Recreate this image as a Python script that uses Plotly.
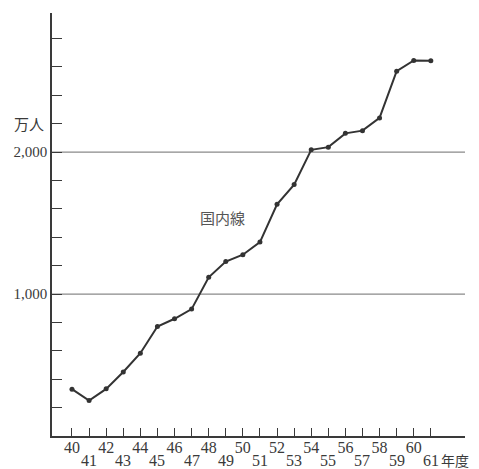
import plotly.graph_objects as go

years = list(range(40, 62))
passengers = [330, 250, 332, 451, 583, 771, 826, 894, 1118, 1229, 1277, 1366,
              1632, 1771, 2016, 2035, 2132, 2151, 2241, 2570, 2646, 2644]
grid_values = [1000, 2000]
y_tick_values = [200, 400, 600, 800, 1000, 1200, 1400, 1600, 1800, 2000,
                 2200, 2400, 2600, 2800]
y_tick_text = ["", "", "", "", "1,000", "", "", "", "", "2,000",
               "", "", "", ""]
unit_label = "万人"
x_unit_label = "年度"
series_label = "国内線"

even_years = [y for y in years if y % 2 == 0]
odd_years = [y for y in years if y % 2 == 1]

SERIF = "Liberation Serif, Noto Sans CJK JP, serif"
INK = "#3a3a3a"

fig = go.Figure()
fig.add_trace(go.Scatter(
    x=years, y=passengers, mode="lines+markers",
    line=dict(color="#333333", width=2),
    marker=dict(color="#333333", size=5),
    showlegend=False, hoverinfo="skip"))

for g in grid_values:
    fig.add_shape(type="line", xref="paper", yref="y", x0=0, x1=1, y0=g, y1=g,
                  line=dict(color="#8a8a8a", width=1.2), layer="below")

annotations = []
for yr in odd_years:
    annotations.append(dict(x=yr, y=0, xref="x", yref="paper", yshift=-24,
                            text=str(yr), showarrow=False, yanchor="middle",
                            font=dict(family=SERIF, size=16, color=INK)))
annotations.append(dict(x=61, y=0, xref="x", yref="paper", xshift=9, yshift=-24,
                        text=x_unit_label, showarrow=False, xanchor="left",
                        yanchor="middle", borderpad=0,
                        font=dict(family="Noto Sans CJK JP", size=14, color=INK)))
annotations.append(dict(x=0, y=2200, xref="paper", yref="y", xshift=-6,
                        text=unit_label, showarrow=False, xanchor="right",
                        yanchor="middle",
                        font=dict(family="Noto Sans CJK JP", size=15, color=INK)))
annotations.append(dict(x=48.8, y=1540, xref="x", yref="y",
                        text=series_label, showarrow=False,
                        font=dict(family="Noto Sans CJK JP", size=15, color="#555555")))

fig.update_layout(
    width=479, height=469,
    margin=dict(l=52, r=14, t=13, b=33),
    paper_bgcolor="white", plot_bgcolor="white",
    annotations=annotations,
    xaxis=dict(range=[38.83, 63.0], tickmode="array", tickvals=years,
               ticktext=[str(y) if y % 2 == 0 else "" for y in years],
               ticks="inside", ticklen=8, tickcolor=INK, tickwidth=1,
               ticklabelstandoff=-4,
               showline=True, linecolor=INK, linewidth=1.5,
               showgrid=False, zeroline=False, automargin=False,
               tickfont=dict(family=SERIF, size=16, color=INK)),
    yaxis=dict(range=[0, 2980], tickmode="array", tickvals=y_tick_values,
               ticktext=y_tick_text,
               ticks="inside", ticklen=10, tickcolor=INK, tickwidth=1,
               showline=True, linecolor=INK, linewidth=1.5,
               showgrid=False, zeroline=False, automargin=False,
               tickfont=dict(family=SERIF, size=15, color=INK)),
)

fig.write_html("out.html", config={"displayModeBar": False},
               post_script="document.body.style.margin='0';document.body.style.overflow='hidden';")
